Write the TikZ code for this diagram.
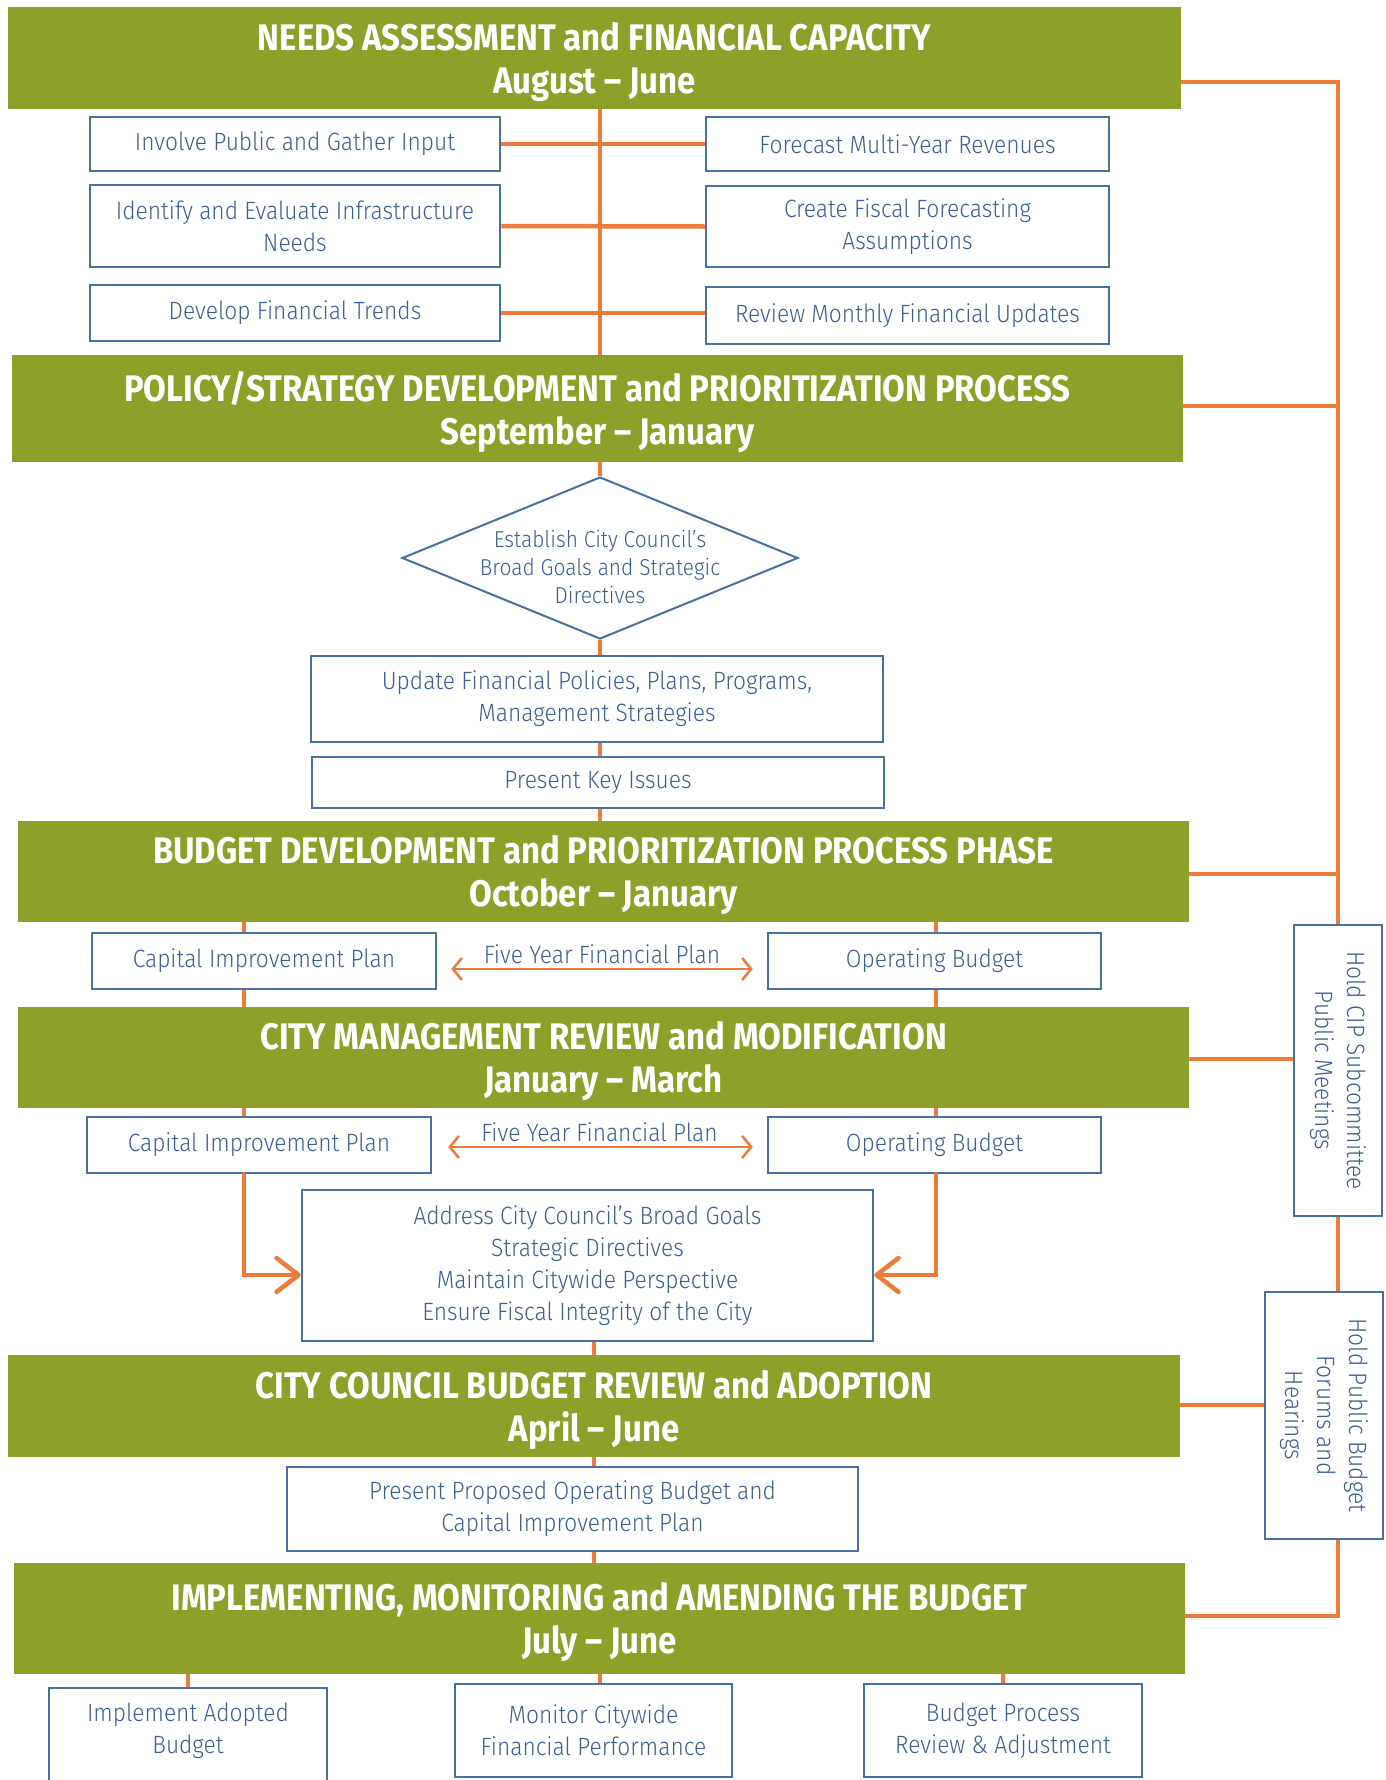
\documentclass[tikz,border=0pt]{standalone}
\usepackage{fontspec}
\usetikzlibrary{arrows.meta,shapes.geometric}
\newfontfamily\titlefont[FakeStretch=0.89]{Fira Sans}
\newfontfamily\boxfont[FakeStretch=0.91]{Fira Sans Light}
\definecolor{barg}{HTML}{8FA02A}
\definecolor{orng}{HTML}{EF7B3B}
\definecolor{boxb}{HTML}{4A6FA1}
\definecolor{txtb}{HTML}{3F5E90}
\tikzset{
  bar/.style={fill=barg, draw=none, inner sep=0pt},
  bartext/.style={text=white, align=center, inner sep=0pt,
    font=\titlefont\bfseries\fontsize{37}{43}\selectfont},
  box/.style={draw=boxb, line width=2.5pt, fill=white, text=txtb, align=center, inner sep=0pt,
    font=\boxfont\fontsize{25}{32}\selectfont},
  boxtext/.style={text=txtb, align=center, inner sep=0pt, font=\boxfont\fontsize{25}{32}\selectfont},
  link/.style={draw=orng, line width=4.5pt},
  thinarrow/.style={draw=orng, line width=2.5pt,
    {Straight Barb[length=9pt,width=22pt]}-{Straight Barb[length=9pt,width=22pt]}},
  bigarrow/.style={draw=orng, line width=4.5pt, line cap=round,
    -{Straight Barb[length=22pt,width=34pt,round]}},
}
\begin{document}
\begin{tikzpicture}[x=1pt,y=-1pt]
\useasboundingbox (0,0) rectangle (1385,1780);
\fill[white] (0,0) rectangle (1385,1780);

% coordinates for connector routing
\coordinate (r1) at (1338,82);
\coordinate (r2) at (1338,406);
\coordinate (r3) at (1338,874);
\coordinate (r4) at (1338,1059);
\coordinate (r5) at (1338,1405);
\coordinate (r6) at (1338,1616);
\coordinate (lx) at (244,0);
\coordinate (rx) at (936,0);
\coordinate (ay) at (0,1275);

% phase bars
\node[bar, minimum width=1173pt, minimum height=102pt] (b1) at (594.5,58) {};
\node[bartext] (b1t) at ([yshift=-4pt]b1.center) {NEEDS ASSESSMENT and FINANCIAL CAPACITY\\August – June};
\node[bar, minimum width=1171pt, minimum height=107pt] (b2) at (597.5,408.5) {};
\node[bartext] (b2t) at ([yshift=-4pt]b2.center) {POLICY/STRATEGY DEVELOPMENT and PRIORITIZATION PROCESS\\September – January};
\node[bar, minimum width=1171pt, minimum height=101pt] (b3) at (603.5,871.5) {};
\node[bartext] (b3t) at ([yshift=-4pt]b3.center) {BUDGET DEVELOPMENT and PRIORITIZATION PROCESS PHASE\\October – January};
\node[bar, minimum width=1171pt, minimum height=101pt] (b4) at (603.5,1057.5) {};
\node[bartext] (b4t) at ([yshift=-4pt]b4.center) {CITY MANAGEMENT REVIEW and MODIFICATION\\January – March};
\node[bar, minimum width=1172pt, minimum height=102pt] (b5) at (594,1406) {};
\node[bartext] (b5t) at ([yshift=-4pt]b5.center) {CITY COUNCIL BUDGET REVIEW and ADOPTION\\April – June};
\node[bar, minimum width=1171pt, minimum height=111pt] (b6) at (599.5,1618.5) {};
\node[bartext] (b6t) at ([yshift=-4pt]b6.center) {IMPLEMENTING, MONITORING and AMENDING THE BUDGET\\July – June};

% phase 1 boxes
\node[box, minimum width=410pt, minimum height=54pt] (inv) at (295,144) {Involve Public and Gather Input};
\node[box, minimum width=403pt, minimum height=54pt] (fmr) at (907.5,144) {Forecast Multi-Year Revenues};
\node[box, minimum width=410pt, minimum height=82pt] (ide) at (295,226) {Identify and Evaluate Infrastructure\\Needs};
\node[box, minimum width=403pt, minimum height=81pt] (cff) at (907.5,226.5) {Create Fiscal Forecasting\\Assumptions};
\node[box, minimum width=410pt, minimum height=56pt] (dft) at (295,313) {Develop Financial Trends};
\node[box, minimum width=403pt, minimum height=57pt] (rmf) at (907.5,315.5) {Review Monthly Financial Updates};

% phase 2
\node[draw=boxb, line width=2pt, fill=white, diamond, minimum width=396pt, minimum height=162pt, inner sep=0pt] (dia) at (600,558) {};
\node[boxtext, font=\boxfont\fontsize{23}{28}\selectfont] (diat) at (600,567) {Establish City Council’s\\Broad Goals and Strategic\\Directives};
\node[box, minimum width=572pt, minimum height=86pt] (upd) at (597,699) {Update Financial Policies, Plans, Programs,\\Management Strategies};
\node[box, minimum width=572pt, minimum height=51pt] (pki) at (598,782.5) {Present Key Issues};

% phase 3
\node[box, minimum width=344pt, minimum height=56pt] (cip1) at (264,961) {Capital Improvement Plan};
\node[box, minimum width=333pt, minimum height=56pt] (op1) at (934.5,961) {Operating Budget};
% phase 4
\node[box, minimum width=344pt, minimum height=56pt] (cip2) at (259,1145) {Capital Improvement Plan};
\node[box, minimum width=333pt, minimum height=56pt] (op2) at (934.5,1145) {Operating Budget};
\node[box, minimum width=571pt, minimum height=151pt] (adr) at (587.5,1265.5)
  {Address City Council’s Broad Goals\\Strategic Directives\\Maintain Citywide Perspective\\Ensure Fiscal Integrity of the City};
% phase 5
\node[box, minimum width=571pt, minimum height=84pt] (ppo) at (572.5,1509) {Present Proposed Operating Budget and\\Capital Improvement Plan};
% phase 6
\node[box, minimum width=278pt, minimum height=110pt] (imp) at (188,1743) {};
\node[boxtext] (impt) at (188,1731) {Implement Adopted\\Budget};
\node[box, minimum width=277pt, minimum height=93pt] (mon) at (593.5,1730.5) {Monitor Citywide\\Financial Performance};
\node[box, minimum width=278pt, minimum height=93pt] (bpr) at (1003,1730.5) {Budget Process\\Review \& Adjustment};

% side boxes
\node[box, minimum width=88pt, minimum height=291pt] (cip) at (1338,1070.5) {};
\node[boxtext, rotate=-90] (cipt) at (cip.center) {Hold CIP Subcommittee\\Public Meetings};
\node[box, minimum width=118pt, minimum height=247pt] (hpb) at (1324,1415.5) {};
\node[boxtext, rotate=-90] (hpbt) at (hpb.center) {Hold Public Budget\\Forums and\\Hearings};

% central spine, phase 1
\draw[link] (b1.south -| 600,0) -- (b2.north -| 600,0);
\draw[link] (inv.east) -- (fmr.west);
\draw[link] (ide.east) -- (cff.west);
\draw[link] (dft.east) -- (rmf.west |- dft.east);

% phase 2 chain
\draw[link] (b2.south -| dia.north) -- (dia.north);
\draw[link] (dia.south) -- (upd.north -| dia.south);
\draw[link] (upd.south -| dia.south) -- (pki.north -| dia.south);
\draw[link] (pki.south -| dia.south) -- (b3.north -| dia.south);

% phase 3/4 side lines
\draw[link] (b3.south -| lx) -- (cip1.north -| lx);
\draw[link] (cip1.south -| lx) -- (b4.north -| lx);
\draw[link] (b3.south -| rx) -- (op1.north -| rx);
\draw[link] (op1.south -| rx) -- (b4.north -| rx);
\draw[link] (b4.south -| lx) -- (cip2.north -| lx);
\draw[link] (b4.south -| rx) -- (op2.north -| rx);
\draw[thinarrow, shorten <=14pt, shorten >=14pt] ([yshift=-8pt]cip1.east) -- node[boxtext, above=4pt] (fyf1) {Five Year Financial Plan} ([yshift=-8pt]op1.west);
\draw[thinarrow, shorten <=16pt, shorten >=14pt] ([yshift=-2pt]cip2.east) -- node[boxtext, above=4pt] (fyf2) {Five Year Financial Plan} ([yshift=-2pt]op2.west);
\draw[bigarrow] (cip2.south -| lx) |- (adr.west |- ay);
\draw[bigarrow] (op2.south -| rx) |- (adr.east |- ay);

% phase 5/6
\draw[link] (adr.south -| b5.north) -- (b5.north);
\draw[link] (b5.south) -- (ppo.north -| b5.south);
\draw[link] (ppo.south -| b5.south) -- (b6.north -| b5.south);
\draw[link] (b6.south -| imp.north) -- (imp.north);
\draw[link] (b6.south -| 600,0) -- (mon.north -| 600,0);
\draw[link] (b6.south -| bpr.north) -- (bpr.north);

% right side loop
\draw[link] (b1.east |- r1) -- (r1) -- (cip.north -| r1);
\draw[link] (b2.east |- r2) -- (r2);
\draw[link] (b3.east |- r3) -- (r3);
\draw[link] (b4.east |- r4) -- (cip.west |- r4);
\draw[link] (cip.south -| r1) -- (hpb.north -| r1);
\draw[link] (b5.east |- r5) -- (hpb.west |- r5);
\draw[link] (hpb.south -| r1) -- (r6) -- (b6.east |- r6);
\end{tikzpicture}
\end{document}
